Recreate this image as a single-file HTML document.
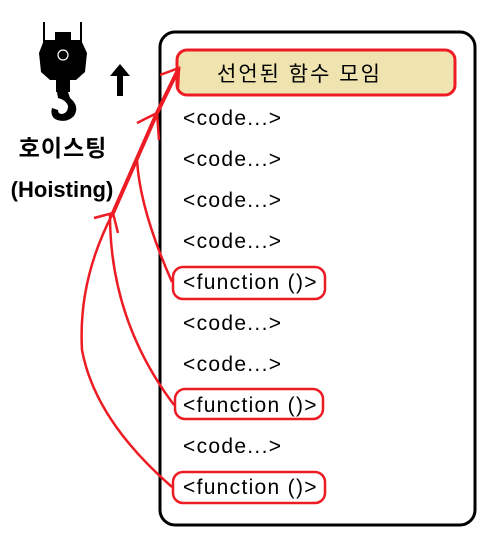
<!DOCTYPE html>
<html><head><meta charset="utf-8"><style>
html,body{margin:0;padding:0;background:#fff;}
svg{display:block}
text{font-family:"Liberation Sans","Noto Sans CJK KR",sans-serif;}
</style></head><body>
<svg width="495" height="547" viewBox="0 0 495 547" xmlns="http://www.w3.org/2000/svg">
<g fill="#000">
<rect x="43" y="22" width="2" height="22"/><rect x="80" y="22" width="2" height="22"/>
<rect x="55" y="32" width="16" height="12"/>
<polygon points="44,40 81,40 87,53 85,72 76,80 50,80 41,72 39,53"/>
<rect x="56" y="80" width="14" height="12"/>
<path d="M57,92 L68,92 L70,98 Q80,106 74,116 Q66,124 55,119 Q50,115 52,108 L58,110 Q58,114 62,114 Q68,113 68,106 Q66,100 58,98 Z"/>
<rect x="117" y="75" width="6" height="21"/>
<polygon points="110,76 120,64 130,76"/>
</g>
<circle cx="63" cy="55" r="5" fill="none" stroke="#fff" stroke-width="1.2"/>
<text x="63" y="156" font-size="23" font-weight="bold" text-anchor="middle" letter-spacing="1">호이스팅</text>
<text x="62" y="197" font-size="22" font-weight="bold" text-anchor="middle">(Hoisting)</text>
<rect x="160" y="32" width="315" height="493" rx="15" fill="none" stroke="#000" stroke-width="3"/>
<rect x="177" y="50" width="278" height="45" rx="10" fill="#efe4b0" stroke="#ed1c24" stroke-width="3"/>
<text x="217" y="81" font-size="21" letter-spacing="2">선언된 함수 모임</text>
<g font-size="21" fill="#000" letter-spacing="1.3">
<text x="183" y="125">&lt;code...&gt;</text>
<text x="183" y="166">&lt;code...&gt;</text>
<text x="183" y="207">&lt;code...&gt;</text>
<text x="183" y="248">&lt;code...&gt;</text>
<text x="183" y="289">&lt;function ()&gt;</text>
<text x="183" y="330">&lt;code...&gt;</text>
<text x="183" y="371">&lt;code...&gt;</text>
<text x="183" y="412">&lt;function ()&gt;</text>
<text x="183" y="453">&lt;code...&gt;</text>
<text x="183" y="494">&lt;function ()&gt;</text>
</g>
<g fill="none" stroke="#ed1c24" stroke-width="2.5">
<rect x="173" y="267" width="152" height="32" rx="10"/>
<rect x="175" y="389" width="148" height="30" rx="10"/>
<rect x="173" y="472" width="152" height="31" rx="10"/>
<path d="M113,213 L157,113 L179,68" stroke-width="4"/>
<path d="M160,75 L179,68 L178,88"/>
<path d="M137,123 L157,113 L159,140"/>
<path d="M94,218 L113,213 L118,233"/>
<path d="M172,282 Q140,210 137,160"/>
<path d="M174,405 Q110,320 110,215"/>
<path d="M172,487 Q95,420 82,350 Q78,280 113,213"/>
</g>
</svg>
</body></html>
